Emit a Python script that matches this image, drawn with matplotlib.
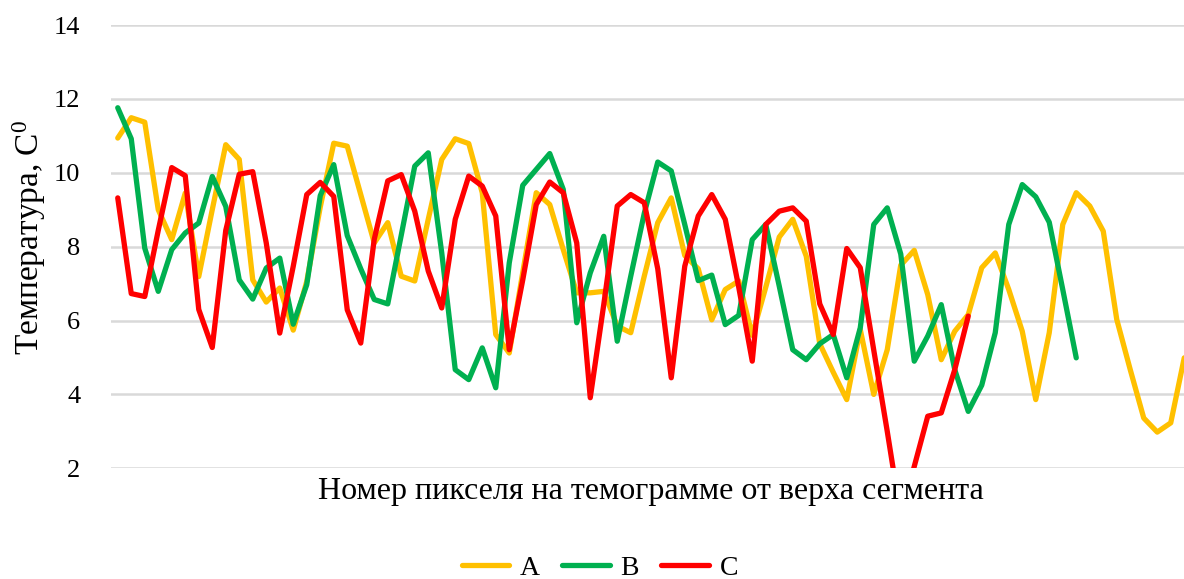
import matplotlib
matplotlib.use('Agg')
import matplotlib.pyplot as plt
import numpy as np

# temperature profiles along the segment, one value per pixel
series_a = [10.94, 11.49, 11.37, 9.0, 8.19, 9.45, 7.19, 9.0, 10.76, 10.36,
            7.1, 6.5, 6.88, 5.74, 7.06, 9.07, 10.8, 10.72, 9.41, 8.1,
            8.65, 7.2, 7.07, 8.74, 10.36, 10.92, 10.79, 9.46, 5.62, 5.12,
            7.3, 9.46, 9.14, 7.92, 6.75, 6.75, 6.79, 5.85, 5.67, 7.2,
            8.65, 9.32, 7.76, 7.4, 6.02, 6.84, 7.07, 5.6, 6.9, 8.26,
            8.74, 7.74, 5.37, 4.6, 3.86, 5.76, 4.0, 5.21, 7.5, 7.9,
            6.7, 4.94, 5.71, 6.16, 7.43, 7.83, 6.84, 5.71, 3.86, 5.67,
            8.6, 9.46, 9.1, 8.42, 6.03, 4.67, 3.36, 2.98, 3.23, 4.99]

series_b = [11.76, 10.92, 7.96, 6.79, 7.92, 8.37, 8.64, 9.9, 9.09, 7.1,
            6.58, 7.42, 7.69, 5.9, 6.97, 9.38, 10.22, 8.3, 7.4, 6.57,
            6.45, 8.31, 10.18, 10.54, 7.83, 4.67, 4.4, 5.26, 4.18, 7.56,
            9.66, 10.09, 10.52, 9.55, 5.94, 7.29, 8.28, 5.44, 7.2, 8.9,
            10.29, 10.05, 8.6, 7.08, 7.23, 5.89, 6.14, 8.19, 8.6, 6.93,
            5.21, 4.94, 5.37, 5.62, 4.45, 5.8, 8.6, 9.05, 7.8, 4.9,
            5.58, 6.43, 4.67, 3.54, 4.25, 5.67, 8.6, 9.68, 9.35, 8.66,
            6.84, 4.99]

series_c = [9.32, 6.73, 6.65, 8.44, 10.14, 9.92, 6.3, 5.27, 8.44, 9.96,
            10.03, 8.1, 5.66, 7.47, 9.41, 9.74, 9.36, 6.29, 5.39, 8.2,
            9.78, 9.95, 8.96, 7.34, 6.34, 8.74, 9.91, 9.64, 8.83, 5.21,
            7.1, 9.14, 9.75, 9.46, 8.1, 3.91, 6.43, 9.1, 9.41, 9.19,
            7.4, 4.45, 7.47, 8.83, 9.41, 8.74, 6.9, 4.9, 8.6, 8.96,
            9.05, 8.69, 6.45, 5.62, 7.95, 7.43, 5.2, 3.0, 0.7, 2.05,
            3.41, 3.5, 4.67, 6.12]

labels = ['A', 'B', 'C']
colors = ['#FFC000', '#00B050', '#FF0000']
y_ticks = [2, 4, 6, 8, 10, 12, 14]

SERIF = ['Liberation Serif', 'DejaVu Serif']
plt.rcParams['font.family'] = SERIF
plt.rcParams['mathtext.fontset'] = 'custom'
plt.rcParams['mathtext.rm'] = 'Liberation Serif'
plt.rcParams['mathtext.it'] = 'Liberation Serif'

fig = plt.figure(figsize=(11.84, 5.79), dpi=100)
ax = fig.add_axes([111 / 1184, 1 - 468.3 / 579, 1080 / 1184, 443.3 / 579])

for vals, lab, col in zip([series_a, series_b, series_c], labels, colors):
    x = np.arange(len(vals))
    ax.plot(x, vals, color=col, lw=3.8, label=lab,
            solid_joinstyle='round', solid_capstyle='round')

ax.set_xlim(-0.5, len(series_a) - 0.5)
ax.set_ylim(2, 14)
ax.set_yticks(y_ticks)
ax.set_yticklabels([str(t) for t in y_ticks], fontsize=19)
ax.set_xticks([])
ax.tick_params(axis='y', length=0, pad=22)
ax.grid(axis='y', color='#D9D9D9', lw=1.8)
ax.set_axisbelow(True)
for s in ax.spines.values():
    s.set_visible(False)

ax.set_ylabel('Температура, C$\\mathrm{^0}$', fontsize=24)
ax.yaxis.set_label_coords(-0.076, 0.52)
ax.yaxis.label.set_va('center')
ax.set_xlabel('Номер пикселя на темограмме от верха сегмента', fontsize=23)
ax.xaxis.set_label_coords(0.5, -0.053)
ax.xaxis.label.set_va('center')

fig.legend(loc='center', bbox_to_anchor=(600 / 1184, 11 / 579), ncol=3,
           frameon=False, fontsize=20, handlelength=1.7, handletextpad=0.4,
           columnspacing=0.8)

fig.savefig('out.png', dpi=100)
